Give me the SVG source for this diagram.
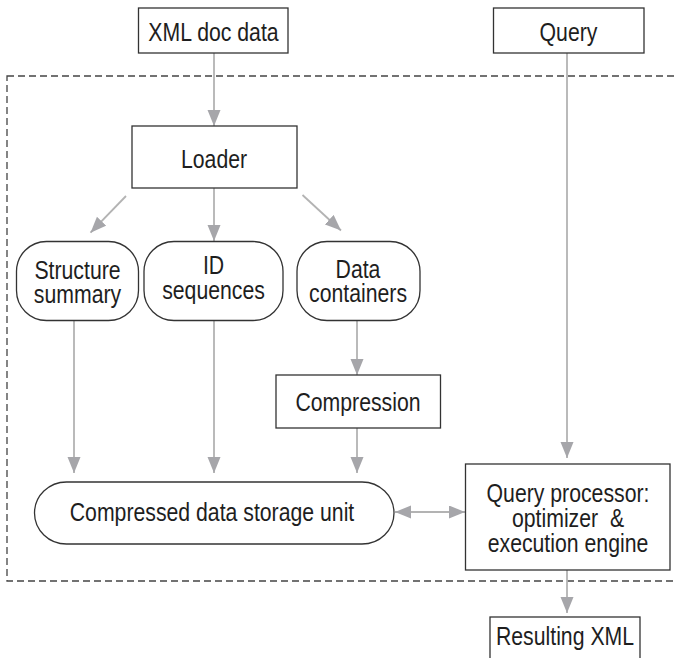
<svg xmlns="http://www.w3.org/2000/svg" width="676" height="658" viewBox="0 0 676 658">
<style>
text{font-family:"Liberation Sans",Arial,sans-serif;font-size:25px;fill:#1e1e1e;text-anchor:middle}
.box{fill:#fff;stroke:#333;stroke-width:1.3}
.conn{stroke:#b3b3b3;stroke-width:1.8;fill:none}
.frame{fill:none;stroke:#444;stroke-width:1.3;stroke-dasharray:7 4}
</style>
<defs>
<marker id="ah" markerUnits="userSpaceOnUse" markerWidth="17" markerHeight="14" refX="16" refY="6.5" orient="auto">
<path d="M0,0 L16,6.5 L0,13 z" fill="#a6a6aa"/>
</marker>
<marker id="ahs" markerUnits="userSpaceOnUse" markerWidth="17" markerHeight="14" refX="16" refY="6.5" orient="auto-start-reverse">
<path d="M0,0 L16,6.5 L0,13 z" fill="#a6a6aa"/>
</marker>
</defs>
<rect class="frame" x="7" y="76" width="680" height="505"/>
<g id="connectors">
<line class="conn" x1="214" y1="53" x2="214" y2="126" marker-end="url(#ah)"/>
<line class="conn" x1="567" y1="53" x2="567" y2="458" marker-end="url(#ah)"/>
<line class="conn" x1="126" y1="196" x2="90.5" y2="232.7" marker-end="url(#ah)"/>
<line class="conn" x1="214" y1="188" x2="214" y2="241" marker-end="url(#ah)"/>
<line class="conn" x1="302.5" y1="195" x2="341" y2="230.5" marker-end="url(#ah)"/>
<line class="conn" x1="357" y1="321" x2="357" y2="375" marker-end="url(#ah)"/>
<line class="conn" x1="74" y1="321" x2="74" y2="473" marker-end="url(#ah)"/>
<line class="conn" x1="214" y1="321" x2="214" y2="473" marker-end="url(#ah)"/>
<line class="conn" x1="357" y1="428" x2="357" y2="473" marker-end="url(#ah)"/>
<line class="conn" x1="395" y1="512" x2="465" y2="512" marker-start="url(#ahs)" marker-end="url(#ah)"/>
<line class="conn" x1="567" y1="570" x2="567" y2="613" marker-end="url(#ah)"/>
</g>
<g id="xml-doc-data">
<rect class="box" x="138.5" y="8" width="149.5" height="45"/>
<text transform="translate(213.5 40.5) scale(0.85 1)">XML doc data</text>
</g>
<g id="query">
<rect class="box" x="493.5" y="8" width="150.5" height="45"/>
<text transform="translate(568.5 40.5) scale(0.85 1)">Query</text>
</g>
<g id="loader">
<rect class="box" x="132" y="126" width="165" height="62"/>
<text transform="translate(214 167.5) scale(0.85 1)">Loader</text>
</g>
<g id="structure-summary">
<rect class="box" x="16.5" y="241.5" width="122" height="79" rx="30" ry="30"/>
<text transform="translate(77.5 278.5) scale(0.85 1)">Structure</text>
<text transform="translate(77.5 303) scale(0.85 1)">summary</text>
</g>
<g id="id-sequences">
<rect class="box" x="144" y="241.5" width="139" height="79" rx="30" ry="30"/>
<text transform="translate(213.5 274) scale(0.85 1)">ID</text>
<text transform="translate(213.5 298.5) scale(0.85 1)">sequences</text>
</g>
<g id="data-containers">
<rect class="box" x="297" y="241.5" width="123" height="79" rx="30" ry="30"/>
<text transform="translate(358 277.5) scale(0.85 1)">Data</text>
<text transform="translate(358 302) scale(0.85 1)">containers</text>
</g>
<g id="compression">
<rect class="box" x="276" y="375" width="164.5" height="53"/>
<text transform="translate(358 411) scale(0.85 1)">Compression</text>
</g>
<g id="compressed-storage">
<rect class="box" x="34.5" y="482" width="359.5" height="62" rx="32" ry="31"/>
<text transform="translate(212 520.5) scale(0.85 1)">Compressed data storage unit</text>
</g>
<g id="query-processor">
<rect class="box" x="465.5" y="464" width="204.5" height="106"/>
<text transform="translate(568 502) scale(0.85 1)">Query processor:</text>
<text transform="translate(568 526.5) scale(0.85 1)" style="white-space:pre">optimizer  &amp;</text>
<text transform="translate(568 552) scale(0.85 1)">execution engine</text>
</g>
<g id="resulting-xml">
<rect class="box" x="490" y="617" width="150" height="60"/>
<text transform="translate(565 645) scale(0.85 1)">Resulting XML</text>
</g>
</svg>
